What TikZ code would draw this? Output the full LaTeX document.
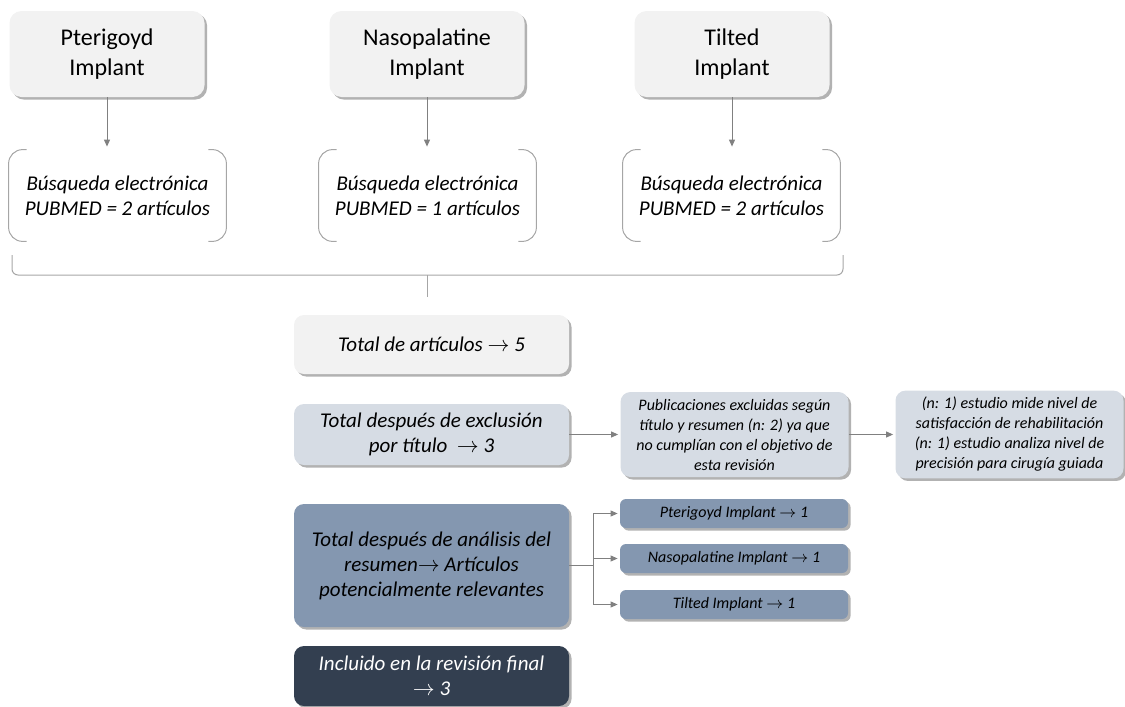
\documentclass[tikz,border=0pt]{standalone}
\usepackage{fontspec}
\setmainfont{Carlito}
\usetikzlibrary{arrows.meta,shadows}
\definecolor{boxgray}{HTML}{F2F2F2}
\definecolor{boxpale}{HTML}{D6DCE4}
\definecolor{boxmid}{HTML}{8497B0}
\definecolor{boxdark}{HTML}{333F50}
\definecolor{linegray}{HTML}{808080}
\definecolor{bracketgray}{HTML}{A6A6A6}
\tikzset{
	shadowed/.style={drop shadow={shadow xshift=1.3pt,shadow yshift=-1.3pt,fill=black,opacity=0.3}},
	topbox/.style={shadowed,fill=boxgray,rounded corners=6pt,minimum width=97.5pt,minimum height=43pt,align=center,font=\fontsize{12}{14.6}\selectfont},
	searchbox/.style={minimum width=108.5pt,minimum height=45.5pt,align=center,font=\fontsize{10.5}{12.5}\selectfont\itshape},
	midbox/.style={shadowed,rounded corners=5pt,minimum width=137.5pt,align=center,font=\fontsize{10.5}{12.5}\selectfont\itshape},
	notebox/.style={shadowed,fill=boxpale,rounded corners=5pt,minimum width=114pt,minimum height=42.5pt,align=center,font=\fontsize{8}{10}\selectfont\itshape},
	resultbox/.style={shadowed,fill=boxmid,rounded corners=3pt,minimum width=114pt,minimum height=14.5pt,font=\fontsize{8}{10}\selectfont\itshape},
	arrow/.style={draw=linegray,line width=0.5pt,-{Triangle[length=3.5pt,width=3pt]}},
	bracketline/.style={draw=bracketgray,line width=0.5pt,rounded corners=7pt}
}
\begin{document}
\begin{tikzpicture}[x=0.5pt,y=-0.5pt]
		\useasboundingbox (0,0) rectangle (1125,707);
		\node[topbox] (pt) at (107,54) {Pterigoyd\\Implant};
		\node[topbox] (np) at (427,54) {Nasopalatine\\Implant};
		\node[topbox] (ti) at (732,54) {Tilted\\Implant};
		\node[searchbox] (s1) at (117.5,195.5) {Búsqueda electrónica\\PUBMED = 2 artículos};
		\node[searchbox] (s2) at (427.5,195.5) {Búsqueda electrónica\\PUBMED = 1 artículos};
		\node[searchbox] (s3) at (731.5,195.5) {Búsqueda electrónica\\PUBMED = 2 artículos};
		\node[midbox,fill=boxgray,minimum height=29.5pt] (tot) at (431.5,344.5) {Total de artículos $\rightarrow$ 5};
		\node[midbox,fill=boxpale,minimum height=30.5pt] (ex) at (431.5,434.5) {Total después de exclusión\\por título \ $\rightarrow$ 3};
		\node[notebox] (pub) at (734.5,434.5) {Publicaciones excluidas según\\título y resumen (n: 2) ya que\\no cumplían con el objetivo de\\esta revisión};
		\node[notebox] (est) at (1009.5,434.5) {(n: 1) estudio mide nivel de\\satisfacción de rehabilitación\\(n: 1) estudio analiza nivel de\\precisión para cirugía guiada};
		\node[midbox,fill=boxmid,minimum height=61.5pt] (an) at (431.5,565.5) {Total después de análisis del\\resumen$\rightarrow$ Artículos\\potencialmente relevantes};
		\node[resultbox] (r1) at (734,513.5) {Pterigoyd Implant $\rightarrow$ 1};
		\node[resultbox] (r2) at (734,558.5) {Nasopalatine Implant $\rightarrow$ 1};
		\node[resultbox] (r3) at (734,604.5) {Tilted Implant $\rightarrow$ 1};
		\node[midbox,fill=boxdark,text=white,minimum height=30pt] (inc) at (431.5,676) {Incluido en la revisión final\\$\rightarrow$ 3};
		
		% open brackets round the searches
		\foreach \s in {s1,s2,s3}{
			\draw[bracketline] ([xshift=9pt]\s.north west) -- (\s.north west) -- (\s.south west) -- ([xshift=9pt]\s.south west);
			\draw[bracketline] ([xshift=-9pt]\s.north east) -- (\s.north east) -- (\s.south east) -- ([xshift=-9pt]\s.south east);
		}
		\draw[bracketline,rounded corners=3pt] (12,255) -- (12,275) -- (843,275) -- (843,255);
		\draw[bracketline] (427,275) -- (427,297);
		
		\draw[arrow,shorten >=1.5pt] (pt.south) -- (pt.south |- s1.north);
		\draw[arrow,shorten >=1.5pt] (np.south) -- (np.south |- s2.north);
		\draw[arrow,shorten >=1.5pt] (ti.south) -- (ti.south |- s3.north);
		\draw[arrow,shorten >=1pt] (ex) -- (pub);
		\draw[arrow,shorten >=1pt] (pub) -- (est);
		\draw[arrow,shorten >=1pt] (an.east) -- ++(12pt,0) |- (r1.west);
		\draw[arrow,shorten >=1pt] (an.east) -- ++(12pt,0) |- (r2.west);
		\draw[arrow,shorten >=1pt] (an.east) -- ++(12pt,0) |- (r3.west);
\end{tikzpicture}
\end{document}
